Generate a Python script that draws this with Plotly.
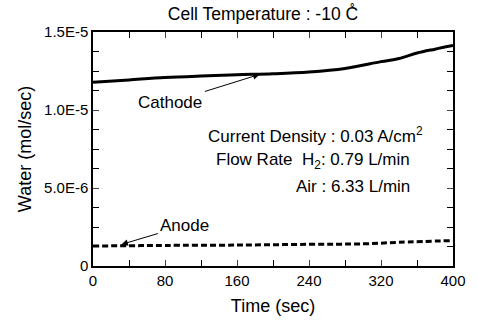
import plotly.graph_objects as go

time_c = [0, 40, 80, 120, 160, 200, 240, 280, 320, 340, 360, 380, 400]
cathode = [1.178e-5, 1.193e-5, 1.208e-5, 1.218e-5, 1.226e-5, 1.232e-5, 1.243e-5,
           1.266e-5, 1.31e-5, 1.33e-5, 1.365e-5, 1.39e-5, 1.413e-5]
time_a = [0, 40, 80, 160, 240, 300, 340, 400]
anode = [1.28e-6, 1.30e-6, 1.32e-6, 1.34e-6, 1.39e-6, 1.42e-6, 1.52e-6, 1.63e-6]

x_ticks = [0, 80, 160, 240, 320, 400]
y_ticks = [0, 5e-6, 1e-5, 1.5e-5]
y_labels = ["0", "5.0E-6", "1.0E-5", "1.5E-5"]

FONT = "Liberation Sans, Arial, sans-serif"
AFONT = dict(size=17, color="black", family=FONT)

fig = go.Figure()
fig.add_trace(go.Scatter(x=time_c, y=cathode, mode="lines",
                         line=dict(color="black", width=3, shape="spline"), showlegend=False))
fig.add_trace(go.Scatter(x=time_a, y=anode, mode="lines",
                         line=dict(color="black", width=3, dash="6px,3px", shape="spline"), showlegend=False))

# Cathode label with arrow
fig.add_annotation(x=185, y=1.228e-5, ax=85, ay=1.048e-5, xref="x", yref="y", axref="x", ayref="y",
                   text="Cathode", showarrow=True, arrowhead=2, arrowsize=1.3, arrowwidth=1,
                   arrowcolor="black", font=AFONT, startstandoff=2)
# Anode label with arrow
fig.add_annotation(x=31.6, y=1.38e-6, ax=102, ay=2.6e-6, xref="x", yref="y", axref="x", ayref="y",
                   text="Anode", showarrow=True, arrowhead=2, arrowsize=1.3, arrowwidth=1,
                   arrowcolor="black", font=AFONT, startstandoff=1)

fig.add_annotation(x=369, y=8.37e-6, text="Current Density : 0.03 A/cm<sup>2</sup>", showarrow=False,
                   xanchor="right", font=AFONT)
fig.add_annotation(x=354, y=6.7e-6, text="Flow Rate  H<sub>2</sub>: 0.79 L/min", showarrow=False,
                   xanchor="right", font=AFONT)
fig.add_annotation(x=354, y=5.1e-6, text="Air : 6.33 L/min", showarrow=False, xanchor="right",
                   font=AFONT)

fig.update_layout(
    width=478, height=327,
    margin=dict(l=93, r=18, t=32, b=61),
    paper_bgcolor="white", plot_bgcolor="white",
    font=dict(family=FONT, size=15, color="black"),
    title=dict(text="Cell Temperature : -10 C\u030a", x=263 / 478, xanchor="center", y=0.975, yanchor="top",
               font=dict(size=17.5)),
)
fig.update_xaxes(range=[0, 400], tickvals=x_ticks, ticks="inside", ticklen=6, tickwidth=1,
                 showline=True, linecolor="black", linewidth=1.5, mirror="ticks", showgrid=False, zeroline=False,
                 minor=dict(dtick=40, ticks="inside", ticklen=6, tickcolor="black", showgrid=False),
                 title=dict(text="Time (sec)", standoff=12), tickfont=dict(size=15))
fig.update_yaxes(range=[0, 1.5e-5], tickvals=y_ticks, ticktext=y_labels, ticks="inside", ticklen=6, tickwidth=1,
                 showline=True, linecolor="black", linewidth=1.5, mirror="ticks", showgrid=False, zeroline=False,
                 minor=dict(dtick=1.25e-6, ticks="inside", ticklen=6, tickcolor="black", showgrid=False),
                 title=dict(text="Water (mol/sec)", standoff=8), tickfont=dict(size=15))

fig.write_html("out.html")
